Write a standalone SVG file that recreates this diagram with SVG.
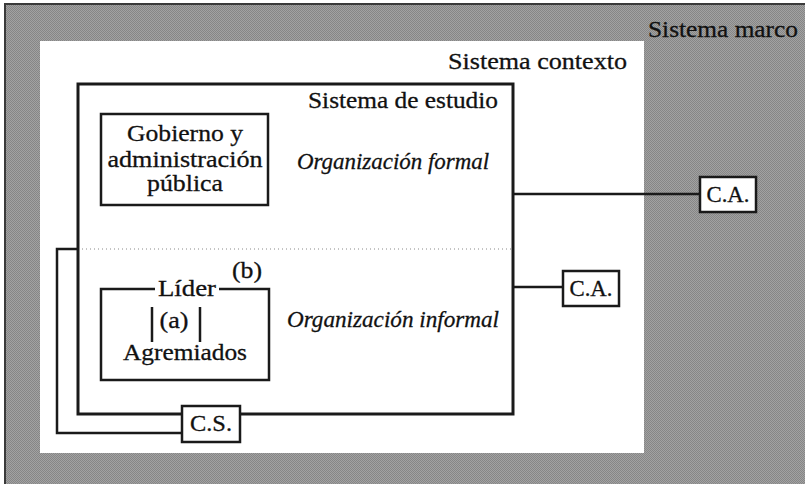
<svg xmlns="http://www.w3.org/2000/svg" width="805" height="484" viewBox="0 0 805 484" font-family="'Liberation Serif', 'Times New Roman', Times, serif">
  <defs>
    <pattern id="halftone" width="2" height="2" patternUnits="userSpaceOnUse">
      <rect width="2" height="2" fill="#a2a2a2"/>
      <rect width="1" height="1" fill="#868686"/>
      <rect x="1" y="1" width="1" height="1" fill="#868686"/>
    </pattern>
  </defs>
  <style>
    text { font-size: 24px; fill: #111111; stroke: #111111; stroke-width: 0.3; }
    .it { font-style: italic; }
    .mid { text-anchor: middle; }
    .box { fill: #ffffff; stroke: #1a1a1a; stroke-width: 2.5; }
    .line { fill: none; stroke: #1a1a1a; stroke-width: 2.5; }
  </style>

  <g id="sistema-marco">
    <rect x="5" y="4" width="808" height="490" fill="url(#halftone)" stroke="#3a3a3a" stroke-width="2"/>
    <text x="648" y="37" textLength="150" lengthAdjust="spacingAndGlyphs">Sistema marco</text>
  </g>

  <g id="sistema-contexto">
    <rect x="40" y="41" width="604" height="412" fill="#ffffff"/>
    <text x="448" y="69" textLength="179" lengthAdjust="spacingAndGlyphs">Sistema contexto</text>
  </g>

  <g id="sistema-estudio">
    <rect x="78" y="84" width="435" height="330" fill="none" stroke="#1a1a1a" stroke-width="3"/>
    <text x="308" y="108" textLength="190" lengthAdjust="spacingAndGlyphs">Sistema de estudio</text>
    <line x1="82" y1="249" x2="511" y2="249" stroke="#888" stroke-width="1" stroke-dasharray="1,3"/>
    <text class="it" x="297" y="169" textLength="192" lengthAdjust="spacingAndGlyphs">Organización formal</text>
    <text class="it" x="287" y="327" textLength="212" lengthAdjust="spacingAndGlyphs">Organización informal</text>
  </g>

  <g id="gobierno">
    <rect class="box" x="101" y="114" width="167" height="91"/>
    <text class="mid" x="185" y="141" textLength="116" lengthAdjust="spacingAndGlyphs">Gobierno y</text>
    <text class="mid" x="185" y="167" textLength="155" lengthAdjust="spacingAndGlyphs">administración</text>
    <text class="mid" x="185" y="191" textLength="76" lengthAdjust="spacingAndGlyphs">pública</text>
  </g>

  <g id="lider-agremiados">
    <path class="line" d="M155,289 H101 V380 H269 V289 H219" stroke-width="2.2"/>
    <text class="mid" x="187" y="296" textLength="58" lengthAdjust="spacingAndGlyphs">Líder</text>
    <text class="mid" x="247" y="278" textLength="30" lengthAdjust="spacingAndGlyphs">(b)</text>
    <line class="line" x1="152" y1="307" x2="152" y2="342" stroke-width="2"/>
    <line class="line" x1="200" y1="307" x2="200" y2="342" stroke-width="2"/>
    <text class="mid" x="174" y="328" textLength="29" lengthAdjust="spacingAndGlyphs">(a)</text>
    <text class="mid" x="185" y="360" textLength="124" lengthAdjust="spacingAndGlyphs">Agremiados</text>
  </g>

  <g id="connectors">
    <path class="line" d="M78,249 H57 V433 H182"/>
    <line class="line" x1="513" y1="194" x2="700" y2="194"/>
    <line class="line" x1="513" y1="287" x2="563" y2="287"/>
  </g>

  <g id="cs">
    <rect class="box" x="182" y="406" width="58" height="36"/>
    <text class="mid" x="211" y="431" textLength="42" lengthAdjust="spacingAndGlyphs">C.S.</text>
  </g>

  <g id="ca-1">
    <rect class="box" x="700" y="177" width="56" height="35"/>
    <text class="mid" x="728" y="202" textLength="43" lengthAdjust="spacingAndGlyphs">C.A.</text>
  </g>

  <g id="ca-2">
    <rect class="box" x="563" y="271" width="56" height="35"/>
    <text class="mid" x="591" y="296" textLength="43" lengthAdjust="spacingAndGlyphs">C.A.</text>
  </g>
</svg>
